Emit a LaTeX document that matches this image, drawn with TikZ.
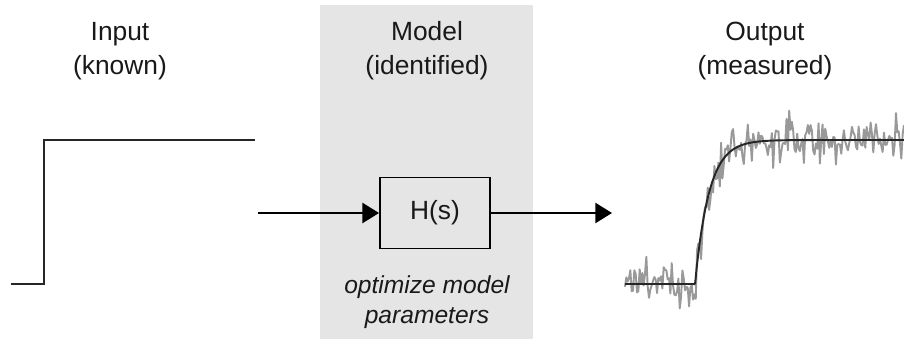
\documentclass[tikz,border=0pt]{standalone}
\usepackage{fontspec}
\setmainfont{Liberation Sans}
\usetikzlibrary{arrows.meta}

\tikzset{
  label text/.style={align=center,font=\fontsize{15}{19.3}\selectfont,text=black!90},
  signal/.style={line width=1.1pt,black!85},
  flow/.style={line width=1.1pt,-{Triangle[length=9.5pt,width=11.5pt]}}
}

\begin{document}
\begin{tikzpicture}[x=0.02cm,y=-0.02cm]
\useasboundingbox (0,0) rectangle (904,342);

% model background
\fill[gray!20] (320,5) rectangle (533,339);

% labels
\node[label text] (input) at (120,51) {Input\\(known)};
\node[label text] (model) at (427,51) {Model\\(identified)};
\node[label text] (output) at (765,51) {Output\\(measured)};

% input step
\draw[signal] (11,284) -- (44,284) -- (44,140) -- (255,140);

% H(s) node
\node[draw,line width=1.1pt,minimum width=110*0.02cm,minimum height=71*0.02cm,label text] (hs) at (435,213) {H(s)};
\node[label text,font=\fontsize{14}{17}\selectfont\itshape] (opt) at (427,302) {optimize model\\parameters};

\coordinate (in) at (258,213);
\coordinate (out) at (612,213);
\draw[flow] (in) -- (hs.west);
\draw[flow] (hs.east) -- (out);

% measured output (noisy)
\pgfmathsetseed{4711}
\draw[gray!80,line width=1.1pt,line join=round]
  plot[domain=625:904,samples=210] (\x,{284-144*(1-exp(-max(0,\x-695)/14))+11*(rand+rand+rand)});

% fitted response
\draw[signal,smooth]
  plot[domain=625:904,samples=200] (\x,{284-144*(1-exp(-max(0,\x-695)/14))});

\end{tikzpicture}
\end{document}
